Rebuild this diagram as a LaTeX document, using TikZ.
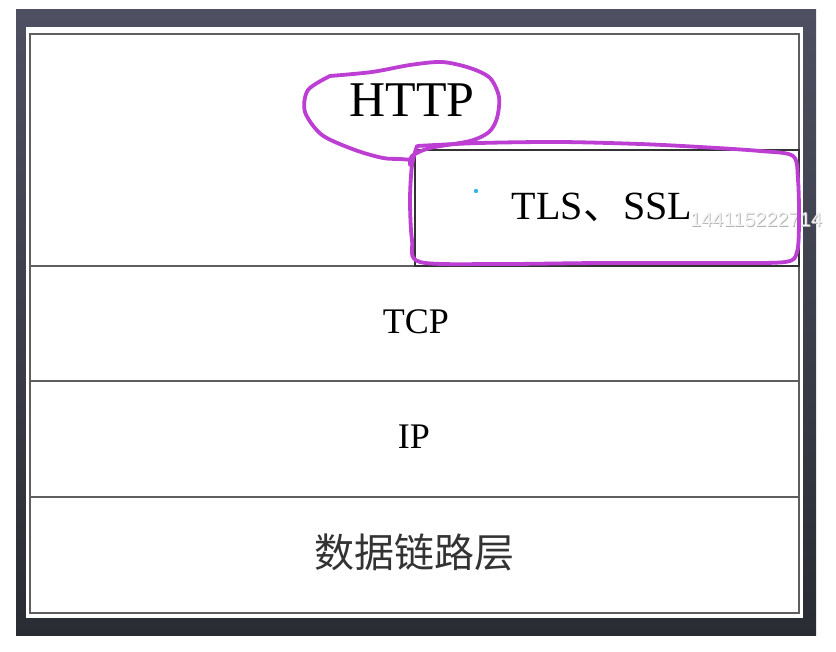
\documentclass[tikz,border=0pt]{standalone}
\usepackage{fontspec}
\setmainfont{Liberation Serif}
\newfontfamily\cjk{Noto Sans CJK SC}
\newfontfamily\wmfont{Liberation Sans}
\definecolor{framedark}{HTML}{2A2C33}
\definecolor{framelight}{HTML}{4E5062}
\definecolor{rulegray}{HTML}{5E5E5E}
\definecolor{pen}{HTML}{BC3ED2}
\definecolor{dotblue}{HTML}{3AB4E6}
\tikzset{
  rule/.style={draw=rulegray, line width=2.4pt},
  penline/.style={draw=pen, line width=3.8pt, line cap=round, line join=round},
  label/.style={inner sep=0pt, anchor=base, text=black},
}
\begin{document}
\begin{tikzpicture}[x=1pt,y=-1pt]
\useasboundingbox (0,0) rectangle (836,652);
\fill[white] (0,0) rectangle (836,652);
\shade[top color=framelight, bottom color=framedark] (16,10) rectangle (816,635);
\fill[white] (26,27) rectangle (803,618);
% outer border
\draw[rule] (30,34) rectangle (799,613);
% layer dividers
\coordinate (d1l) at (30,266); \coordinate (d1r) at (799,266);
\coordinate (d2l) at (30,381); \coordinate (d2r) at (799,381);
\coordinate (d3l) at (30,497); \coordinate (d3r) at (799,497);
\draw[rule] (d1l) -- (d1r);
\draw[rule] (d2l) -- (d2r);
\draw[rule] (d3l) -- (d3r);
% TLS box
\draw[rule, draw=black!80] (415,150) rectangle (799,266);
% texts
\node[label, font=\fontsize{50}{56}\selectfont] (http) at (412,117) {HTTP};
\node[label, font=\fontsize{40}{46}\selectfont] (tls) at (602,220) {TLS{\cjk 、}SSL};
\node[label, font=\fontsize{36}{42}\selectfont] (tcp) at (416,334) {TCP};
\node[label, font=\fontsize{36}{42}\selectfont] (ip) at (414,449) {IP};
\node[label, text=black!80, font=\cjk\fontsize{40}{46}\selectfont] (link) at (414,567) {数据链路层};
% watermark
\node[inner sep=0pt, anchor=base west, text=gray!60, font=\wmfont\fontsize{20}{24}\selectfont] (wmshadow) at (690.8,227.8) {144115222714};
\node[inner sep=0pt, anchor=base west, text=white!92!gray, font=\wmfont\fontsize{20}{24}\selectfont] (wm) at (690,227) {144115222714};
% blue dot
\fill[dotblue] (476,191) circle (2.2);
% hand-drawn loops
\draw[penline] plot[smooth] coordinates {(330,76) (372,72) (410,65) (442,62) (470,68) (490,78) (499,97) (497,118) (489,132) (470,141) (430,148) (412,156) (410,165)};
\draw[penline] plot[smooth] coordinates {(412,160) (400,159) (383,158) (355,150) (322,135) (305,112) (308,90) (330,76)};
\draw[penline] plot[smooth] coordinates {(417,146) (480,143) (560,142) (640,144) (700,147) (760,151) (793,156) (798,180) (799,220) (797,252) (785,262) (720,263) (600,263) (500,264) (420,262) (412,240) (410,200) (412,165) (417,146)};
\end{tikzpicture}
\end{document}
